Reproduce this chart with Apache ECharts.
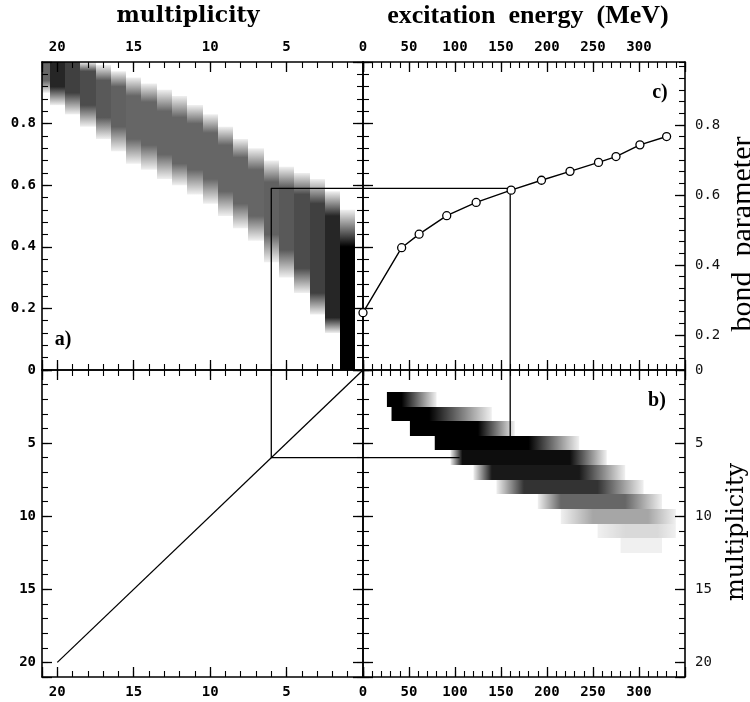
<!DOCTYPE html>
<html>
<head>
<meta charset="utf-8">
<script src="https://cdn.jsdelivr.net/npm/echarts@6.0.0/dist/echarts.min.js"></script>
<style>
  html, body { margin: 0; padding: 0; background: #fff; }
  #chart { width: 750px; height: 702px; }
</style>
</head>
<body>
<div id="chart"></div>
<script>
// tick labels shown on each side
const multLabels = [0, 5, 10, 15, 20];
const energyLabels = [50, 100, 150, 200, 250, 300];
const bondLabels = [0, 0.2, 0.4, 0.6, 0.8];
const bondRightLabels = [0.2, 0.4, 0.6, 0.8];   // panel c right labels sit on their own offset scale

// panel a): bond parameter vs multiplicity, one column per multiplicity
const aMult     = [1,    2,    3,    4,    5,    6,    7,    8,    9,    10,   11,   12,   13,   14,   15,   16,   17,   18,   19,   20,   21];
const aSparseLo = [0.00, 0.12, 0.18, 0.25, 0.30, 0.35, 0.42, 0.46, 0.50, 0.54, 0.57, 0.60, 0.62, 0.65, 0.67, 0.71, 0.75, 0.79, 0.83, 0.86, 0.90];
const aDenseLo  = [0.00, 0.17, 0.25, 0.33, 0.39, 0.44, 0.50, 0.54, 0.58, 0.62, 0.65, 0.67, 0.70, 0.73, 0.75, 0.79, 0.82, 0.86, 0.90, 0.92, 0.94];
const aDenseHi  = [0.40, 0.50, 0.54, 0.57, 0.59, 0.61, 0.65, 0.69, 0.73, 0.77, 0.80, 0.82, 0.84, 0.87, 0.89, 0.92, 0.94, 0.97, 1.00, 1.00, 1.00];
const aSparseHi = [0.52, 0.58, 0.62, 0.64, 0.66, 0.68, 0.72, 0.75, 0.79, 0.83, 0.86, 0.89, 0.91, 0.93, 0.95, 0.97, 0.99, 1.00, 1.00, 1.00, 1.00];
const aPeak     = [1.00, 0.85, 0.75, 0.70, 0.65, 0.62, 0.60, 0.60, 0.60, 0.60, 0.60, 0.60, 0.60, 0.60, 0.60, 0.62, 0.65, 0.70, 0.75, 0.85, 0.60];

// panel b): excitation energy (MeV) per multiplicity row
const bMult     = [2,    3,    4,    5,    6,    7,    8,    9,    10,   11,   12];
const bSparseLo = [26,   31,   51,   78,   95,   120,  145,  190,  215,  255,  280];
const bDenseLo  = [26,   31,   51,   78,   108,  140,  175,  215,  250,  285,  295];
const bDenseHi  = [42,   72,   125,  180,  225,  235,  255,  285,  310,  320,  310];
const bSparseHi = [80,   140,  165,  235,  265,  285,  305,  325,  340,  340,  325];
const bPeak     = [1.00, 1.00, 1.00, 1.00, 0.95, 0.90, 0.80, 0.60, 0.35, 0.15, 0.06];

// panel c): mean bond parameter vs excitation energy
const cEnergy = [0, 42, 61, 91, 123, 161, 194, 225, 256, 275, 301, 330];
const cBond   = [0.186, 0.397, 0.441, 0.501, 0.544, 0.584, 0.616, 0.645, 0.674, 0.693, 0.731, 0.758];

// the cut drawn through all panels
const cutMult = 6;
const cutBond = 0.59;
const cutEnergy = 160;

const boldNum = { fontFamily: 'DejaVu Sans Mono', fontSize: 14, fontWeight: 'bold', color: '#000' };
const lightNum = { fontFamily: 'DejaVu Sans Mono', fontSize: 14, fontWeight: 'normal', color: '#111' };
const bondFmt = v => (v === 0 ? '0' : v.toFixed(1));
const intFmt = v => String(Math.round(v));

const GRID_TOP = 62, GRID_MID = 370, GRID_BOTTOM = 677;
const GRID_LEFT = 42, GRID_SPLIT = 363, GRID_RIGHT = 685;

// ranges: major/minor are tick intervals
const multR = { min: 0, max: 21, inverse: true, major: 5, minor: 1 };
const energyR = { min: 0, max: 350, major: 50, minor: 10 };
const bondR = { min: 0, max: 1, major: 0.2, minor: 0.04 };
const cRightR = { min: 0.1, max: 0.98, minor: 0.2 / 6 };

const lineStyle = { color: '#000', width: 1.6 };
const tickStyle = { color: '#000', width: 1.3 };

function axisPair(grid, pos, r, label, opt) {
  opt = opt || {};
  const base = { type: 'value', gridIndex: grid, position: pos, min: r.min, max: r.max, inverse: !!r.inverse, splitLine: { show: false } };
  const major = Object.assign({}, base, {
    interval: r.major,
    axisLine: { show: opt.noLine ? false : true, onZero: false, lineStyle: lineStyle },
    axisTick: { show: true, inside: true, length: 10, lineStyle: tickStyle },
    axisLabel: label
      ? Object.assign({
          show: true, margin: label.margin,
          formatter: v => (label.values.some(t => Math.abs(t - v) < 1e-6) ? label.fmt(v) : '')
        }, label.font)
      : { show: false }
  });
  const minor = Object.assign({}, base, {
    interval: r.minor,
    axisLine: { show: false, onZero: false },
    axisTick: { show: true, inside: true, length: 6, lineStyle: { color: '#000', width: 1.1 } },
    axisLabel: { show: false }
  });
  return [major, minor];
}

const xAxis = [];
const yAxis = [];
function panel(g, xr, yr, lab) {
  const xi = xAxis.length;
  xAxis.push(...axisPair(g, 'bottom', xr, lab.bottom), ...axisPair(g, 'top', xr, lab.top));
  const yi = yAxis.length;
  yAxis.push(...axisPair(g, 'left', yr, lab.left));
  if (yr === bondR && lab.cRight) {
    // frame line and fine ticks on the shifted right scale of panel c
    const minor = axisPair(g, 'right', cRightR, null)[1];
    minor.axisLine = { show: true, onZero: false, lineStyle: lineStyle };
    yAxis.push(minor);
  } else {
    yAxis.push(...axisPair(g, 'right', yr, lab.right));
  }
  return { x: xi, y: yi };
}

const pA = panel(0, multR, bondR, {
  top: { values: multLabels, fmt: intFmt, margin: 8, font: boldNum },
  left: { values: bondLabels, fmt: bondFmt, margin: 6, font: boldNum }
});
const pC = panel(1, energyR, bondR, {
  top: { values: energyLabels, fmt: intFmt, margin: 8, font: boldNum },
  cRight: true
});
const pD = panel(2, multR, multR, {
  bottom: { values: multLabels, fmt: intFmt, margin: 8, font: boldNum },
  left: { values: [5, 10, 15, 20], fmt: intFmt, margin: 6, font: boldNum }
});
const pB = panel(3, energyR, multR, {
  bottom: { values: energyLabels, fmt: intFmt, margin: 8, font: boldNum },
  right: { values: multLabels, fmt: intFmt, margin: 10, font: lightNum }
});

// panel c right-hand labelled ticks: a helper grid spanning 0.2..0.8 of the shifted scale
const cPx = v => GRID_MID - (v - cRightR.min) / (cRightR.max - cRightR.min) * (GRID_MID - GRID_TOP);
const cHelperTop = cPx(0.8);
const cHelperHeight = cPx(0.2) - cPx(0.8);
xAxis.push({ type: 'value', gridIndex: 4, show: false, min: 0, max: 1 });
yAxis.push(Object.assign(
  axisPair(4, 'right', { min: 0.2, max: 0.8, major: 0.2, minor: 0.2 }, {
    values: bondRightLabels, fmt: bondFmt, margin: 10, font: lightNum
  }, { noLine: true })[0]
));

const ink = a => 'rgba(0,0,0,' + a.toFixed(3) + ')';

function renderA(params, api) {
  const m = api.value(0), sLo = api.value(1), dLo = api.value(2), dHi = api.value(3), sHi = api.value(4), peak = api.value(5);
  const p0 = api.coord([m - 0.5, sHi]);
  const p1 = api.coord([m + 0.5, sLo]);
  const x0 = Math.round(Math.min(p0[0], p1[0])), x1 = Math.round(Math.max(p0[0], p1[0]));
  const y0 = Math.min(p0[1], p1[1]), y1 = Math.max(p0[1], p1[1]);
  const span = sHi - sLo;
  const at = v => (sHi - v) / span;
  const edge = 0.06;
  const stops = [
    { offset: 0, color: ink(sHi === dHi ? peak : edge) },
    { offset: at(dHi), color: ink(peak) },
    { offset: at(dLo), color: ink(peak) },
    { offset: 1, color: ink(sLo === dLo ? peak : edge) }
  ];
  return {
    type: 'rect',
    shape: { x: x0, y: y0, width: x1 - x0, height: y1 - y0 },
    style: { fill: new echarts.graphic.LinearGradient(0, 0, 0, 1, stops) }
  };
}

function renderB(params, api) {
  const m = api.value(0), sLo = api.value(1), dLo = api.value(2), dHi = api.value(3), sHi = api.value(4), peak = api.value(5);
  const p0 = api.coord([sLo, m - 0.5]);
  const p1 = api.coord([sHi, m + 0.5]);
  const x0 = Math.min(p0[0], p1[0]), x1 = Math.max(p0[0], p1[0]);
  const y0 = Math.round(Math.min(p0[1], p1[1])), y1 = Math.round(Math.max(p0[1], p1[1]));
  const span = sHi - sLo;
  const at = v => (v - sLo) / span;
  const edge = 0.06;
  const stops = [
    { offset: 0, color: ink(sLo === dLo ? peak : edge) },
    { offset: at(dLo), color: ink(peak) },
    { offset: at(dHi), color: ink(peak) },
    { offset: 1, color: ink(sHi === dHi ? peak : edge) }
  ];
  return {
    type: 'rect',
    shape: { x: x0, y: y0, width: x1 - x0, height: y1 - y0 },
    style: { fill: new echarts.graphic.LinearGradient(0, 0, 1, 0, stops) }
  };
}

const aData = aMult.map((m, i) => [m, aSparseLo[i], aDenseLo[i], aDenseHi[i], aSparseHi[i], aPeak[i]]);
const bData = bMult.map((m, i) => [m, bSparseLo[i], bDenseLo[i], bDenseHi[i], bSparseHi[i], bPeak[i]]);

function guide(p, data) {
  return {
    type: 'line', xAxisIndex: p.x, yAxisIndex: p.y, data: data,
    symbol: 'none', lineStyle: { color: '#000', width: 1.3 }, silent: true, z: 2
  };
}

const option = {
  animation: false,
  backgroundColor: '#fff',
  grid: [
    { left: GRID_LEFT, top: GRID_TOP, width: GRID_SPLIT - GRID_LEFT, height: GRID_MID - GRID_TOP },
    { left: GRID_SPLIT, top: GRID_TOP, width: GRID_RIGHT - GRID_SPLIT, height: GRID_MID - GRID_TOP },
    { left: GRID_LEFT, top: GRID_MID, width: GRID_SPLIT - GRID_LEFT, height: GRID_BOTTOM - GRID_MID },
    { left: GRID_SPLIT, top: GRID_MID, width: GRID_RIGHT - GRID_SPLIT, height: GRID_BOTTOM - GRID_MID },
    { left: GRID_SPLIT, top: cHelperTop, width: GRID_RIGHT - GRID_SPLIT, height: cHelperHeight }
  ],
  xAxis: xAxis,
  yAxis: yAxis,
  series: [
    {
      type: 'custom', xAxisIndex: pA.x, yAxisIndex: pA.y, data: aData,
      renderItem: renderA, clip: true, silent: true, z: 3
    },
    guide(pA, [[cutMult, 0], [cutMult, cutBond], [0, cutBond]]),
    guide(pC, [[0, cutBond], [cutEnergy, cutBond], [cutEnergy, 0]]),
    {
      type: 'line', xAxisIndex: pC.x, yAxisIndex: pC.y,
      data: cEnergy.map((e, i) => [e, cBond[i]]),
      symbol: 'circle', symbolSize: 8,
      itemStyle: { color: '#fff', borderColor: '#000', borderWidth: 1.3 },
      lineStyle: { color: '#000', width: 1.4 }, z: 4
    },
    guide(pD, [[20, 20], [0, 0]]),
    guide(pD, [[cutMult, 0], [cutMult, cutMult], [0, cutMult]]),
    guide(pB, [[cutEnergy, 0], [cutEnergy, 4.6]]),
    guide(pB, [[0, cutMult], [105, cutMult]]),
    {
      type: 'custom', xAxisIndex: pB.x, yAxisIndex: pB.y, data: bData,
      renderItem: renderB, clip: true, silent: true, z: 3
    }
  ],
  graphic: [
    { type: 'text', x: 188, y: 16, style: { text: 'multiplicity', font: 'bold 22px "DejaVu Serif"', fill: '#000', textAlign: 'center', textVerticalAlign: 'middle' } },
    { type: 'text', x: 528, y: 16, style: { text: 'excitation  energy  (MeV)', font: 'bold 26px "Liberation Serif"', fill: '#000', textAlign: 'center', textVerticalAlign: 'middle' } },
    { type: 'text', x: 743, y: 234, rotation: Math.PI / 2, style: { text: 'bond  parameter', font: '30px "Liberation Serif"', fill: '#000', textAlign: 'center', textVerticalAlign: 'middle' } },
    { type: 'text', x: 737, y: 532, rotation: Math.PI / 2, style: { text: 'multiplicity', font: '24px "DejaVu Serif"', fill: '#000', textAlign: 'center', textVerticalAlign: 'middle' } },
    { type: 'text', x: 63, y: 340, style: { text: 'a)', font: 'bold 20px "Liberation Serif"', fill: '#000', textAlign: 'center', textVerticalAlign: 'middle' } },
    { type: 'text', x: 660, y: 93, style: { text: 'c)', font: 'bold 20px "Liberation Serif"', fill: '#000', textAlign: 'center', textVerticalAlign: 'middle' } },
    { type: 'text', x: 657, y: 401, style: { text: 'b)', font: 'bold 20px "Liberation Serif"', fill: '#000', textAlign: 'center', textVerticalAlign: 'middle' } }
  ]
};

const chart = echarts.init(document.getElementById('chart'));
chart.setOption(option);
</script>
</body>
</html>
